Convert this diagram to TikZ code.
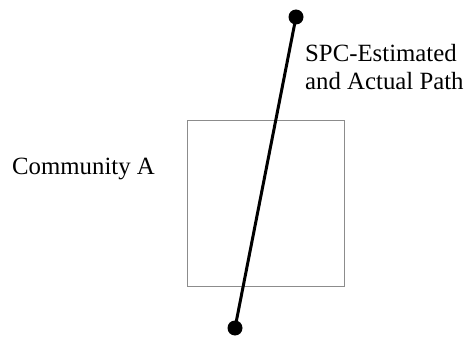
\documentclass[tikz,border=0pt]{standalone}
\usepackage{fontspec}
\setmainfont{Liberation Serif}
\begin{document}
\begin{tikzpicture}[x=1pt,y=-1pt,
  lbl/.style={font=\fontsize{24.8}{28}\selectfont, inner sep=0pt},
  endpt/.style={circle, fill=black, inner sep=0pt, minimum size=15pt},
  region/.style={draw=black!45, line width=1pt}]
\useasboundingbox (0,0) rectangle (469,337);
\draw[region] (187,121) rectangle (344,286);
\node[endpt] (top) at (296,17) {};
\node[endpt] (bot) at (235,328) {};
\draw[line width=3pt] (top.center) -- (bot.center);
\node[lbl, anchor=base west] (path1) at (305,62) {SPC-Estimated};
\node[lbl, anchor=base west] (path2) at (305,90) {and Actual Path};
\node[lbl, anchor=base west] (comm) at (12,174) {Community A};
\end{tikzpicture}
\end{document}
